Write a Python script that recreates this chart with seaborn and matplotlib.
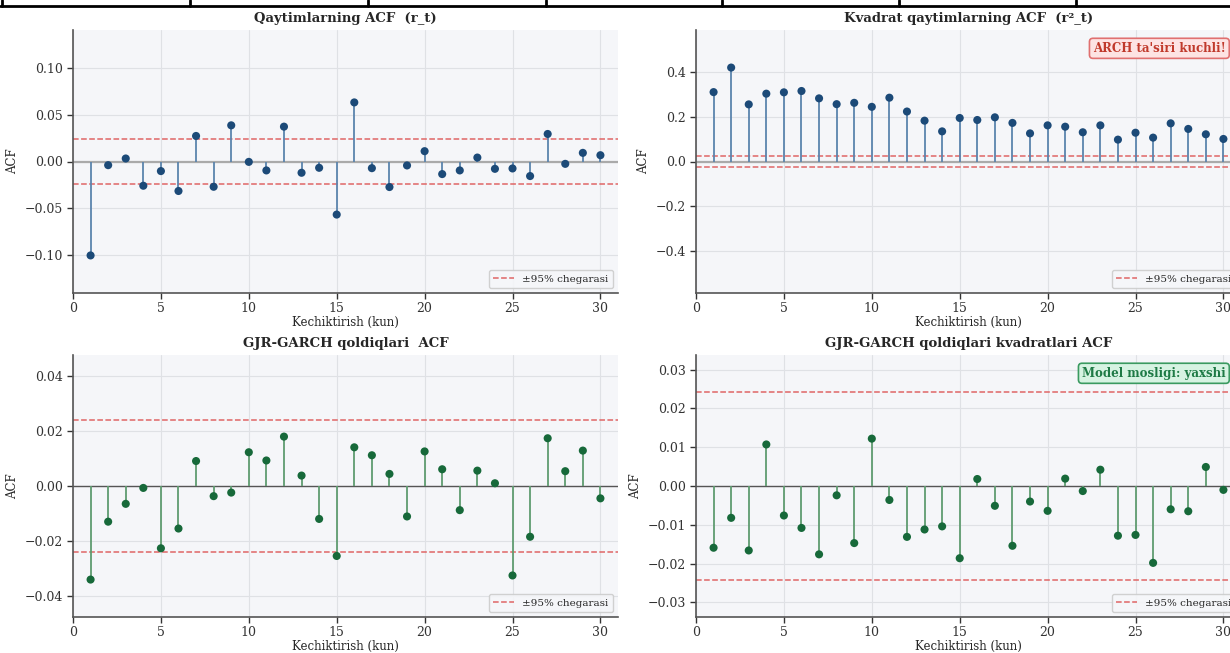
import numpy as np
import matplotlib
matplotlib.use("Agg")
import matplotlib.pyplot as plt
from matplotlib.lines import Line2D
import seaborn as sns

lags = list(range(1, 31))
acf_returns = [-0.100, -0.0039, 0.0032, -0.0258, -0.0102, -0.0314, 0.0272, -0.0269, 0.0385, -0.0004,
               -0.0095, 0.0371, -0.0120, -0.0067, -0.0565, 0.0629, -0.0071, -0.0272, -0.0042, 0.0110,
               -0.0134, -0.0095, 0.0042, -0.0078, -0.0074, -0.0155, 0.0293, -0.0025, 0.0092, 0.0067]
acf_sq_returns = [0.311, 0.421, 0.256, 0.304, 0.310, 0.316, 0.283, 0.257, 0.263, 0.245,
                  0.286, 0.224, 0.183, 0.135, 0.195, 0.186, 0.198, 0.173, 0.126, 0.162,
                  0.156, 0.131, 0.162, 0.098, 0.129, 0.107, 0.171, 0.146, 0.122, 0.101]
acf_resid = [-0.0341, -0.0130, -0.0065, -0.0007, -0.0227, -0.0155, 0.0091, -0.0037, -0.0024, 0.0123,
             0.0093, 0.0180, 0.0038, -0.0120, -0.0255, 0.0141, 0.0112, 0.0044, -0.0111, 0.0126,
             0.0061, -0.0088, 0.0056, 0.0010, -0.0326, -0.0185, 0.0174, 0.0054, 0.0129, -0.0045]
acf_sq_resid = [-0.0159, -0.0082, -0.0166, 0.0107, -0.0076, -0.0108, -0.0176, -0.0024, -0.0147, 0.0122,
                -0.0036, -0.0131, -0.0112, -0.0104, -0.0186, 0.0018, -0.0051, -0.0154, -0.0040, -0.0064,
                0.0019, -0.0013, 0.0042, -0.0128, -0.0126, -0.0198, -0.0060, -0.0065, 0.0049, -0.0010]
conf = 0.0241

titles = ["Qaytimlarning ACF  (r_t)", "Kvadrat qaytimlarning ACF  (r²_t)",
          "GJR-GARCH qoldiqlari  ACF", "GJR-GARCH qoldiqlari kvadratlari ACF"]
xlabel = "Kechiktirish (kun)"
ylabel = "ACF"
legend_label = "±95% chegarasi"

sns.set_style("whitegrid", {
    "axes.facecolor": "#f5f6f9",
    "grid.color": "#dfe1e5",
    "axes.edgecolor": "#555555",
    "xtick.bottom": True,
    "ytick.left": True,
})
plt.rcParams["font.family"] = ["DejaVu Serif"]
plt.rcParams["axes.linewidth"] = 1.2

W, H = 1230, 653
fig = plt.figure(figsize=(W / 100, H / 100), dpi=100)

def px_axes(x0, y0, x1, y1):
    return fig.add_axes([x0 / W, 1 - y1 / H, (x1 - x0) / W, (y1 - y0) / H])

boxes = [(73, 30, 618, 293), (696, 30, 1241, 293), (73, 355, 618, 617), (696, 355, 1241, 617)]
datas = [acf_returns, acf_sq_returns, acf_resid, acf_sq_resid]
marker_cols = ["#1c4a78", "#1c4a78", "#17693a", "#17693a"]
stem_cols = ["#5b84ad", "#5b84ad", "#5f9c70", "#5f9c70"]

for i, (box, vals) in enumerate(zip(boxes, datas)):
    ax = px_axes(*box)
    vals = np.array(vals)
    lim = 1.4 * max(np.abs(vals).max(), conf)
    if i < 2:
        ax.axhline(0, color="#aaaaaa", lw=1.6, zorder=1)
    else:
        ax.axhline(0, color="#555555", lw=1.0, zorder=1)
    ax.vlines(lags, 0, vals, color=stem_cols[i], lw=1.3, zorder=2)
    sns.scatterplot(x=lags, y=vals, ax=ax, color=marker_cols[i], s=34,
                    edgecolor="none", zorder=3, legend=False)
    ax.axhline(conf, color="#e06666", ls="--", lw=1.1, label=legend_label, zorder=1.5)
    ax.axhline(-conf, color="#e06666", ls="--", lw=1.1, zorder=1.5)
    ax.set_xlim(0, 31)
    ax.set_ylim(-lim, lim)
    ax.set_xticks([0, 5, 10, 15, 20, 25, 30])
    ax.tick_params(labelsize=9, length=4, width=1, colors="#333333")
    ax.tick_params(axis="x", pad=2.5)
    ax.set_title(titles[i], fontsize=9.5, fontweight="bold", pad=6)
    ax.set_xlabel(xlabel, fontsize=8.5, labelpad=0.5)
    ax.set_ylabel(ylabel, fontsize=8.5)
    sns.despine(ax=ax)
    ax.legend(loc="lower right", fontsize=7.5, frameon=True, framealpha=0.9,
              edgecolor="#cccccc", fancybox=True)
    if i == 1:
        ax.text(0.972, 0.955, "ARCH ta'siri kuchli!", transform=ax.transAxes, ha="right", va="top",
                fontsize=8.5, fontweight="bold", color="#c0392b",
                bbox=dict(boxstyle="round,pad=0.3", fc="#fde3e3", ec="#e07070", lw=1.2))
    if i == 3:
        ax.text(0.972, 0.955, "Model mosligi: yaxshi", transform=ax.transAxes, ha="right", va="top",
                fontsize=8.5, fontweight="bold", color="#1e7a45",
                bbox=dict(boxstyle="round,pad=0.3", fc="#d6f3e2", ec="#3a9a60", lw=1.2))

# table border remnant at the top edge
ytop = 1 - 6 / H
fig.add_artist(Line2D([0, 1], [ytop, ytop], transform=fig.transFigure, color="black", lw=2))
for xp in [2, 190, 368, 546, 722, 899, 1076]:
    fig.add_artist(Line2D([xp / W, xp / W], [ytop, 1], transform=fig.transFigure, color="black", lw=2))

fig.savefig("out.png", dpi=100)
